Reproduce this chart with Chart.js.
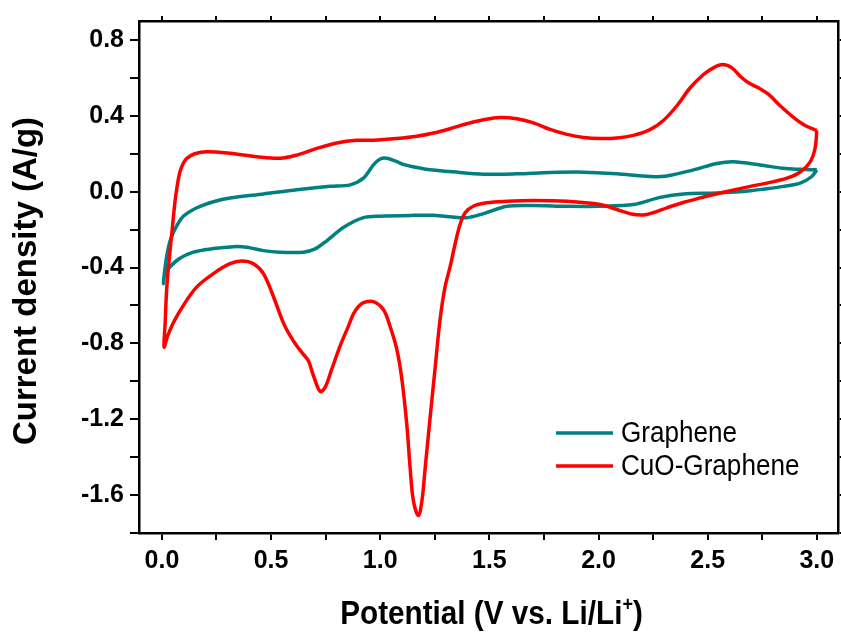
<!DOCTYPE html>
<html>
<head>
<meta charset="utf-8">
<title>CV curves</title>
<script src="https://cdn.jsdelivr.net/npm/chart.js@4"></script>
<style>
  html, body { margin: 0; padding: 0; background: #fff; }
</style>
</head>
<body>
<canvas id="cv" width="841" height="632"></canvas>
<script>
// series: potential (V) and current density (A/g)
const grapheneV = [3.000, 2.924, 2.847, 2.740, 2.618, 2.542, 2.435, 2.313, 2.236, 2.084, 1.931, 1.778, 1.626, 1.473, 1.320, 1.229, 1.168, 1.114, 1.076, 1.030, 1.000, 0.969, 0.923, 0.862, 0.771, 0.618, 0.465, 0.312, 0.236, 0.160, 0.098, 0.068, 0.045, 0.030, 0.018, 0.007,
  0.015, 0.068, 0.144, 0.236, 0.328, 0.389, 0.465, 0.541, 0.648, 0.702, 0.755, 0.831, 0.923, 1.000, 1.152, 1.244, 1.397, 1.473, 1.580, 1.702, 1.855, 2.007, 2.160, 2.282, 2.389, 2.542, 2.695, 2.847, 2.924, 2.977, 3.000];
const grapheneI = [0.115, 0.118, 0.123, 0.141, 0.158, 0.149, 0.115, 0.083, 0.080, 0.094, 0.103, 0.101, 0.094, 0.092, 0.106, 0.115, 0.127, 0.141, 0.158, 0.176, 0.172, 0.141, 0.071, 0.036, 0.028, 0.010, -0.012, -0.033, -0.053, -0.085, -0.130, -0.180, -0.235, -0.293, -0.370, -0.484,
  -0.432, -0.363, -0.319, -0.300, -0.290, -0.293, -0.311, -0.319, -0.319, -0.302, -0.259, -0.189, -0.137, -0.129, -0.125, -0.125, -0.137, -0.116, -0.077, -0.073, -0.077, -0.077, -0.068, -0.030, -0.012, -0.007, 0.005, 0.028, 0.045, 0.080, 0.115];

const cuoV = [3.000, 2.992, 2.969, 2.924, 2.863, 2.771, 2.695, 2.557, 2.466, 2.388, 2.313, 2.250, 2.204, 2.145, 2.084, 2.007, 1.855, 1.700, 1.580, 1.488, 1.426, 1.389, 1.366, 1.343, 1.320, 1.297, 1.274, 1.251, 1.228, 1.206, 1.191, 1.175,
  1.152, 1.137, 1.122, 1.099, 1.076, 1.045, 1.015, 0.969, 0.923, 0.900, 0.877, 0.854, 0.816, 0.778, 0.748, 0.725, 0.694, 0.671, 0.648, 0.618, 0.590, 0.557, 0.511, 0.465, 0.419, 0.366, 0.312, 0.236, 0.160, 0.098, 0.053, 0.025, 0.010,
  0.015, 0.021, 0.030, 0.045, 0.060, 0.070, 0.083, 0.098, 0.114, 0.150, 0.206, 0.312, 0.435, 0.541, 0.618, 0.710, 0.801, 0.893, 0.969, 1.076, 1.168, 1.244, 1.320, 1.397, 1.473, 1.549, 1.626, 1.702, 1.778, 1.855, 1.931, 2.007,
  2.084, 2.160, 2.236, 2.297, 2.359, 2.420, 2.481, 2.526, 2.569, 2.611, 2.649, 2.687, 2.732, 2.778, 2.832, 2.893, 2.946, 3.000];
const cuoI = [0.323, 0.229, 0.156, 0.104, 0.071, 0.045, 0.028, -0.007, -0.033, -0.057, -0.085, -0.111, -0.123, -0.116, -0.094, -0.068, -0.051, -0.047, -0.051, -0.059, -0.077, -0.111, -0.172, -0.276, -0.397, -0.502, -0.676, -0.936, -1.197, -1.457, -1.630, -1.708,
  -1.630, -1.457, -1.231, -0.988, -0.832, -0.710, -0.623, -0.580, -0.585, -0.606, -0.645, -0.710, -0.814, -0.936, -1.031, -1.054, -0.970, -0.892, -0.858, -0.814, -0.765, -0.693, -0.554, -0.432, -0.380, -0.366, -0.380, -0.432, -0.502, -0.600, -0.690, -0.765, -0.819,
  -0.690, -0.530, -0.397, -0.224, -0.051, 0.030, 0.106, 0.150, 0.176, 0.200, 0.210, 0.202, 0.184, 0.176, 0.193, 0.228, 0.257, 0.271, 0.271, 0.280, 0.292, 0.309, 0.332, 0.358, 0.379, 0.391, 0.384, 0.363, 0.328, 0.302, 0.286, 0.280,
  0.283, 0.297, 0.327, 0.375, 0.453, 0.548, 0.618, 0.653, 0.670, 0.653, 0.609, 0.574, 0.548, 0.514, 0.453, 0.392, 0.349, 0.323];

// tick positions (labels only on every other one)
const xTicks = [0, 0.25, 0.5, 0.75, 1.0, 1.25, 1.5, 1.75, 2.0, 2.25, 2.5, 2.75, 3.0];
const yTicks = [-1.8, -1.6, -1.4, -1.2, -1.0, -0.8, -0.6, -0.4, -0.2, 0, 0.2, 0.4, 0.6, 0.8];
const xLabelStep = 0.5;
const yLabelStep = 0.4;

const xTitle = 'Potential (V vs. Li/Li';
const xTitleSup = '+';
const yTitle = 'Current density (A/g)';
const seriesNames = ['CuO-Graphene', 'Graphene'];

const FONT = '"Liberation Sans", Arial, sans-serif';

function zip(xs, ys) {
  return xs.map((x, i) => ({ x: x, y: ys[i] }));
}

function onStep(v, step) {
  const r = v / step;
  return Math.abs(r - Math.round(r)) < 1e-6;
}

const tickGrid = (len) => ({
  drawOnChartArea: false,
  drawTicks: true,
  tickLength: len,
  color: '#000',
  lineWidth: 2
});
const frame = { display: true, color: '#000', width: 2.5 };

// titles, superscript and the in-plot legend
const textPlugin = {
  id: 'textPlugin',
  afterDraw(chart) {
    const ctx = chart.ctx;
    const area = chart.chartArea;
    ctx.save();
    ctx.fillStyle = '#000';

    // y title
    ctx.save();
    ctx.translate(36, (area.top + area.bottom) / 2 + 4);
    ctx.rotate(-Math.PI / 2);
    ctx.font = 'bold 33px ' + FONT;
    ctx.textAlign = 'center';
    ctx.textBaseline = 'alphabetic';
    ctx.fillText(yTitle, 0, 0);
    ctx.restore();

    // x title with superscript
    ctx.save();
    const sx = 0.9;
    const mainFont = 'bold 33px ' + FONT;
    const supFont = 'bold 20px ' + FONT;
    ctx.font = mainFont;
    const w1 = ctx.measureText(xTitle).width;
    const w3 = ctx.measureText(')').width;
    ctx.font = supFont;
    const w2 = ctx.measureText(xTitleSup).width;
    const total = (w1 + w2 + w3) * sx;
    const cx = (area.left + area.right) / 2 + 3;
    ctx.translate(cx - total / 2, 624);
    ctx.scale(sx, 1);
    ctx.textAlign = 'left';
    ctx.textBaseline = 'alphabetic';
    ctx.font = mainFont;
    ctx.fillText(xTitle, 0, 0);
    ctx.font = supFont;
    ctx.fillText(xTitleSup, w1, -13);
    ctx.font = mainFont;
    ctx.fillText(')', w1 + w2, 0);
    ctx.restore();

    // legend inside the plot
    const rows = [
      { label: chart.data.datasets[1].label, color: chart.data.datasets[1].borderColor },
      { label: chart.data.datasets[0].label, color: chart.data.datasets[0].borderColor }
    ];
    const lx = 556, ly = 433, gap = 33;
    rows.forEach((r, i) => {
      const y = ly + i * gap;
      ctx.strokeStyle = r.color;
      ctx.lineWidth = 3.5;
      ctx.beginPath();
      ctx.moveTo(lx, y);
      ctx.lineTo(lx + 57, y);
      ctx.stroke();
      ctx.save();
      ctx.translate(lx + 65, y);
      ctx.scale(0.9, 1);
      ctx.font = '29px ' + FONT;
      ctx.textAlign = 'left';
      ctx.textBaseline = 'middle';
      ctx.fillText(r.label, 0, 1);
      ctx.restore();
    });
    ctx.restore();
  }
};

new Chart(document.getElementById('cv'), {
  type: 'scatter',
  data: {
    datasets: [
      {
        label: seriesNames[0],
        data: zip(cuoV, cuoI),
        showLine: true,
        borderColor: '#ff0000',
        backgroundColor: '#ff0000',
        borderWidth: 3.5,
        pointRadius: 0,
        tension: 0.35
      },
      {
        label: seriesNames[1],
        data: zip(grapheneV, grapheneI),
        showLine: true,
        borderColor: '#008080',
        backgroundColor: '#008080',
        borderWidth: 3.5,
        pointRadius: 0,
        tension: 0.3
      }
    ]
  },
  options: {
    responsive: false,
    animation: false,
    devicePixelRatio: 1,
    layout: { padding: 0 },
    plugins: {
      legend: { display: false },
      tooltip: { enabled: false }
    },
    scales: {
      x: {
        type: 'linear',
        position: 'bottom',
        min: -0.105,
        max: 3.097,
        afterBuildTicks: (s) => { s.ticks = xTicks.map(v => ({ value: v })); },
        afterFit: (s) => { s.height = 99; },
        grid: tickGrid(7),
        border: frame,
        ticks: {
          color: '#000',
          font: { family: FONT, size: 25, weight: 'bold' },
          padding: 6,
          maxRotation: 0,
          autoSkip: false,
          callback: (v) => onStep(v, xLabelStep) ? v.toFixed(1) : ''
        }
      },
      x2: {
        type: 'linear',
        position: 'top',
        min: -0.105,
        max: 3.097,
        afterBuildTicks: (s) => { s.ticks = xTicks.map(v => ({ value: v })); },
        afterFit: (s) => { s.height = 14; },
        grid: tickGrid(5),
        border: frame,
        ticks: { display: false }
      },
      y: {
        type: 'linear',
        position: 'left',
        min: -1.8,
        max: 0.9,
        afterBuildTicks: (s) => { s.ticks = yTicks.map(v => ({ value: v })); },
        afterFit: (s) => { s.width = 139; },
        grid: tickGrid(9),
        border: frame,
        ticks: {
          color: '#000',
          font: { family: FONT, size: 25, weight: 'bold' },
          padding: 6,
          autoSkip: false,
          callback: (v) => onStep(v, yLabelStep) ? v.toFixed(1) : ''
        }
      },
      y2: {
        type: 'linear',
        position: 'right',
        min: -1.8,
        max: 0.9,
        afterBuildTicks: (s) => { s.ticks = yTicks.map(v => ({ value: v })); },
        afterFit: (s) => { s.width = 3; },
        grid: tickGrid(3),
        border: frame,
        ticks: { display: false }
      }
    }
  },
  plugins: [textPlugin]
});
</script>
</body>
</html>
